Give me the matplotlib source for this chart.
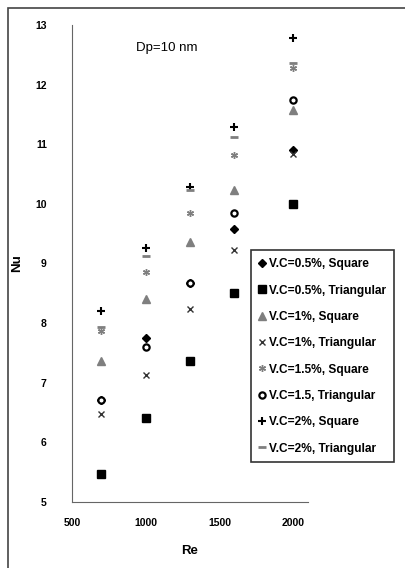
import matplotlib
matplotlib.use('Agg')
import matplotlib.pyplot as plt
from matplotlib.patches import Rectangle

plt.rcParams['font.family'] = ['Liberation Sans', 'DejaVu Sans']

re = [700, 1000, 1300, 1600, 2000]

nu_05_sq = [6.71, 7.74, 8.68, 9.57, 10.90]
nu_05_tri = [5.46, 6.41, 7.36, 8.50, 10.00]
nu_1_sq = [7.36, 8.40, 9.36, 10.23, 11.57]
nu_1_tri = [6.48, 7.12, 8.23, 9.22, 10.84]
nu_15_sq = [7.86, 8.86, 9.84, 10.82, 12.28]
nu_15_tri = [6.70, 7.60, 8.68, 9.84, 11.75]
nu_2_sq = [8.20, 9.26, 10.29, 11.29, 12.79]
nu_2_tri = [7.94, 9.12, 10.23, 11.12, 12.37]

labels = ['V.C=0.5%, Square', 'V.C=0.5%, Triangular', 'V.C=1%, Square',
          'V.C=1%, Triangular', 'V.C=1.5%, Square', 'V.C=1.5, Triangular',
          'V.C=2%, Square', 'V.C=2%, Triangular']

fig = plt.figure(figsize=(4.06, 5.68), dpi=100)
ax = fig.add_axes([0.177, 0.1167, 0.582, 0.839])

gray = '#7f7f7f'
ax.plot(re, nu_05_sq, ls='none', marker='D', ms=4, color='black', label=labels[0])
ax.plot(re, nu_05_tri, ls='none', marker='s', ms=5.5, color='black', label=labels[1])
ax.plot(re, nu_1_sq, ls='none', marker='^', ms=5.5, color=gray, label=labels[2])
ax.plot(re, nu_1_tri, ls='none', marker='x', ms=4.5, mew=1.0, color='#333333', label=labels[3])
ax.plot(re, nu_15_sq, ls='none', marker=(6, 2, 0), ms=5, mew=1.0, color=gray, label=labels[4])
ax.plot(re, nu_15_tri, ls='none', marker='o', ms=4.5, mfc='white', mec='black', mew=1.6, label=labels[5])
ax.plot(re, nu_2_sq, ls='none', marker='+', ms=5.5, mew=1.5, color='black', label=labels[6])
ax.plot(re, nu_2_tri, ls='none', marker='_', ms=5.5, mew=2, color=gray, label=labels[7])

ax.set_xlim(500, 2100)
ax.set_ylim(5, 13)
ax.set_xticks([500, 1000, 1500, 2000])
ax.set_yticks([5, 6, 7, 8, 9, 10, 11, 12, 13])
ax.tick_params(length=0, labelsize=7.5, pad=12)
ax.tick_params(axis='y', pad=18)
for t in ax.get_xticklabels() + ax.get_yticklabels():
    t.set_fontweight('bold')
for s in ['top', 'right']:
    ax.spines[s].set_visible(False)
for s in ['left', 'bottom']:
    ax.spines[s].set_color('#666666')

ax.set_xlabel('Re', fontsize=9.5, fontweight='bold', labelpad=12)
ax.set_ylabel('Nu', fontsize=9.5, fontweight='bold')
ax.yaxis.set_label_coords(-0.208, 0.5)

ax.text(0.27, 0.965, 'Dp=10 nm', transform=ax.transAxes, fontsize=9.5, va='top')

leg = ax.legend(loc='upper left', bbox_to_anchor=(0.618, 0.559),
                bbox_transform=fig.transFigure, fontsize=8.6, frameon=True,
                fancybox=False, edgecolor='black', labelspacing=1.2,
                handlelength=0.6, handletextpad=0.3, borderpad=0.65,
                borderaxespad=0)
leg.get_frame().set_linewidth(1.2)
for t in leg.get_texts():
    t.set_fontweight('bold')

fig.patches.append(Rectangle((8 / 406, -0.1), 1.2, 1.1 - 8 / 568,
                             transform=fig.transFigure, fill=False,
                             edgecolor='#444444', lw=1.2))

fig.savefig('out.png', dpi=100)
